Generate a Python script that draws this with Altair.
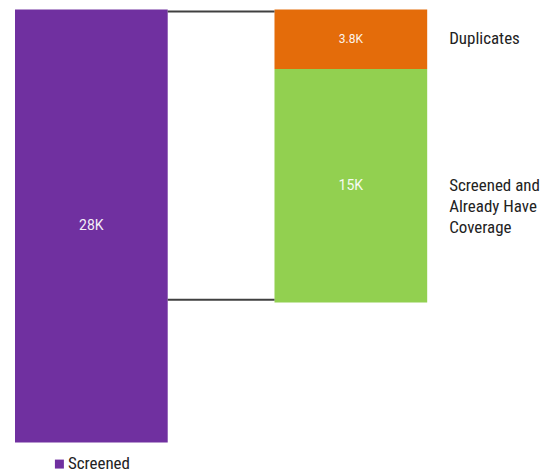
import altair as alt
import pandas as pd

# ---- data ----
columns = ["Screened", "Breakdown"]
screened_value = 28000
segments = ["Duplicates", "Screened and Already Have Coverage"]
segment_values = [3850, 15100]
bar_labels = ["28K", "3.8K", "15K"]
side_labels = ["Duplicates", "Screened and\nAlready Have\nCoverage"]
connector_levels = [130, 18770]
series_names = ["Screened"] + segments
colors = ["#7030A0", "#E46C0A", "#92D050"]

# ---- tables built from the arrays ----
rows = [dict(col=columns[0], series="Screened", start=0, end=screened_value,
             label=bar_labels[0], side="")]
acc = 0
for s, v, lab, sl in zip(segments, segment_values, bar_labels[1:], side_labels):
    rows.append(dict(col=columns[1], series=s, start=acc, end=acc + v, label=lab, side=sl))
    acc += v
bars_df = pd.DataFrame(rows)
bars_df["mid"] = (bars_df["start"] + bars_df["end"]) / 2

conn_df = pd.DataFrame({"from": [columns[0]] * len(connector_levels),
                        "to": [columns[1]] * len(connector_levels),
                        "level": connector_levels})

narrow = "Liberation Sans Narrow, Arial Narrow, Roboto Condensed, Liberation Sans, sans-serif"

xscale = alt.Scale(domain=columns, paddingInner=0.4115, paddingOuter=0.027)
yscale = alt.Scale(domain=[0, screened_value], reverse=True, nice=False, zero=True)

base = alt.Chart(bars_df)

bars = base.mark_bar().encode(
    x=alt.X("col:N", scale=xscale, axis=None),
    y=alt.Y("start:Q", scale=yscale, axis=None),
    y2="end:Q",
    color=alt.Color(
        "series:N",
        scale=alt.Scale(domain=series_names, range=colors),
        legend=alt.Legend(
            values=["Screened"], title=None, orient="none",
            legendX=43, legendY=447, symbolType="square", symbolSize=81,
            symbolStrokeWidth=0, labelFont=narrow, labelFontSize=17,
            labelColor="#222222", labelOffset=0, padding=0,
        ),
    ),
)

inner_text = base.mark_text(font="Roboto", color="white", opacity=0.92,
                            baseline="middle", align="center").encode(
    x=alt.X("col:N", scale=xscale, axis=None),
    y=alt.Y("mid:Q", scale=yscale, axis=None),
    text="label:N",
    size=alt.condition(alt.datum.series == "Duplicates", alt.value(12), alt.value(14)),
)

side_text = base.transform_filter(alt.datum.side != "").mark_text(
    font=narrow, fontSize=17, color="#222222", align="left", baseline="middle",
    dx=22, lineBreak="\n", lineHeight=21,
).encode(
    x=alt.X("col:N", scale=xscale, axis=None, bandPosition=1),
    y=alt.Y("mid:Q", scale=yscale, axis=None),
    text="side:N",
)

connectors = alt.Chart(conn_df).mark_rule(color="#404040", strokeWidth=2).encode(
    x=alt.X("from:N", scale=xscale, axis=None, bandPosition=1),
    x2=alt.X2("to:N", bandPosition=0),
    y=alt.Y("level:Q", scale=yscale, axis=None),
)

chart = alt.layer(bars, connectors, inner_text, side_text).properties(
    width=427, height=434,
    padding={"left": 0, "top": 1, "right": 0, "bottom": 0},
    background="white",
).configure_view(stroke=None)

chart.save("out.html", embed_options={"renderer": "svg", "actions": False})
